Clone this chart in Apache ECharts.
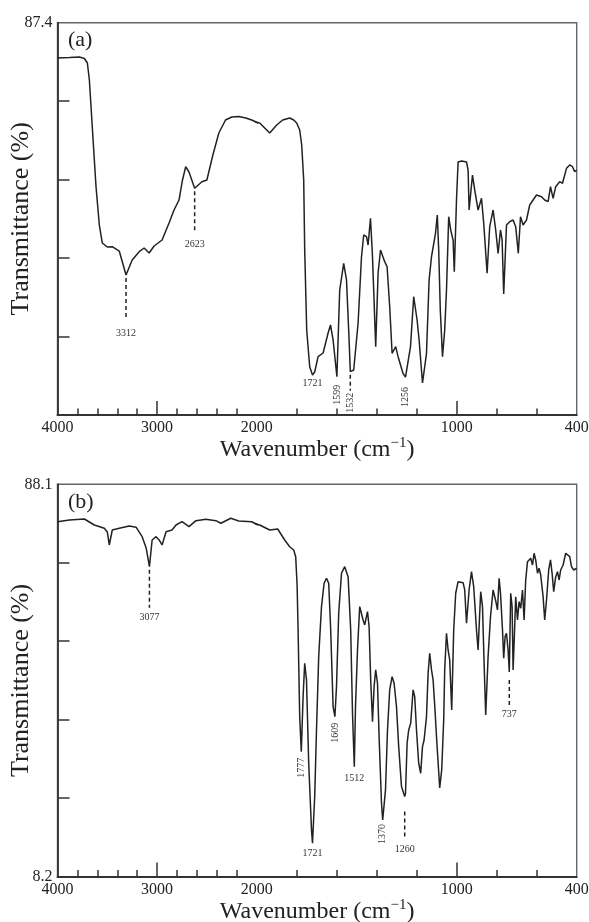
<!DOCTYPE html>
<html>
<head>
<meta charset="utf-8">
<script src="https://cdn.jsdelivr.net/npm/echarts@6/dist/echarts.min.js"></script>
<style>
  html, body { margin: 0; padding: 0; background: #ffffff; }
  #chart { width: 589px; height: 922px; }
</style>
</head>
<body>
<div id="chart"></div>
<script>
// FTIR spectra: [wavenumber (cm-1), transmittance (%)]
const spectrumA = [
  [4000, 80.65], [3880, 80.75], [3780, 80.84], [3730, 80.56], [3700, 79.70], [3680, 76.45],
  [3647, 66.31], [3613, 55.99], [3580, 48.72], [3550, 45.28], [3500, 44.52], [3450, 44.58],
  [3380, 43.75], [3312, 39.17], [3250, 42.03], [3180, 43.62], [3130, 44.33], [3080, 43.37],
  [3030, 44.71], [2950, 45.86], [2880, 49.11], [2830, 51.59], [2780, 53.50], [2745, 57.33],
  [2713, 59.87], [2680, 58.86], [2623, 55.74], [2550, 57.00], [2500, 57.33], [2440, 62.11],
  [2380, 66.31], [2313, 68.80], [2250, 69.37], [2180, 69.47], [2110, 69.18], [2050, 68.80],
  [1985, 68.22], [1960, 67.27], [1935, 66.31], [1900, 67.84], [1870, 68.80], [1835, 69.18],
  [1815, 68.80], [1800, 68.22], [1785, 66.89], [1775, 64.02], [1765, 57.33], [1760, 43.94],
  [1750, 28.65], [1735, 21.63], [1721, 20.05], [1710, 20.62], [1693, 23.55], [1668, 24.25],
  [1643, 28.08], [1631, 29.61], [1618, 26.74], [1599, 19.72], [1585, 36.30], [1565, 41.40],
  [1551, 38.21], [1538, 26.74], [1532, 20.68], [1515, 21.00], [1493, 29.99], [1476, 42.66],
  [1465, 46.81], [1451, 46.49], [1443, 44.90], [1431, 50.01], [1421, 42.66], [1405, 25.46],
  [1393, 39.55], [1381, 43.94], [1360, 41.71], [1348, 40.75], [1335, 33.10], [1323, 24.20],
  [1305, 25.46], [1293, 23.55], [1268, 20.30], [1256, 19.66], [1231, 25.46], [1215, 35.02],
  [1198, 30.56], [1188, 26.74], [1171, 18.52], [1151, 24.20], [1138, 38.21], [1126, 42.66],
  [1118, 42.99], [1106, 47.14], [1097, 50.64], [1090, 43.94], [1082, 32.47], [1071, 23.55],
  [1060, 28.65], [1051, 36.30], [1040, 50.31], [1030, 47.77], [1018, 45.86], [1012, 39.80],
  [1001, 53.50], [993, 60.77], [975, 60.96], [951, 60.77], [943, 59.24], [938, 51.59],
  [921, 58.28], [910, 55.42], [893, 51.59], [876, 53.83], [865, 49.11], [848, 39.49],
  [835, 48.40], [818, 51.59], [805, 47.77], [793, 43.31], [781, 47.77], [773, 45.86],
  [765, 35.53], [751, 48.72], [735, 49.36], [718, 49.68], [705, 48.40], [692, 43.31],
  [681, 50.31], [668, 48.72], [651, 49.68], [635, 52.55], [601, 54.46], [576, 54.13],
  [560, 53.50], [543, 53.18], [531, 56.05], [518, 53.83], [505, 56.05], [485, 57.00],
  [471, 56.70], [451, 59.56], [435, 60.20], [421, 59.87], [410, 58.91], [400, 59.24]
];

const spectrumB = [
  [4000, 80.48], [3880, 80.83], [3730, 81.03], [3630, 79.81], [3530, 79.14], [3500, 78.39],
  [3480, 75.74], [3450, 78.79], [3380, 79.14], [3280, 79.61], [3210, 79.34], [3150, 77.43],
  [3110, 75.13], [3077, 71.32], [3050, 76.76], [3010, 77.43], [2980, 76.76], [2950, 75.74],
  [2910, 78.45], [2850, 78.79], [2810, 79.81], [2750, 80.48], [2680, 79.47], [2610, 80.69],
  [2510, 80.97], [2410, 80.69], [2360, 80.16], [2260, 81.18], [2180, 80.63], [2050, 80.48],
  [1985, 79.81], [1935, 78.79], [1895, 79.00], [1860, 76.76], [1835, 75.39], [1815, 74.72],
  [1805, 73.36], [1798, 67.60], [1793, 58.43], [1785, 40.78], [1777, 33.65], [1768, 44.85],
  [1760, 51.65], [1751, 48.25], [1740, 31.29], [1726, 17.71], [1721, 15.00], [1710, 24.49],
  [1701, 38.07], [1690, 53.00], [1676, 63.18], [1663, 67.94], [1651, 68.96], [1640, 67.94],
  [1630, 58.43], [1618, 42.82], [1609, 40.78], [1601, 46.89], [1590, 61.83], [1576, 69.98],
  [1560, 71.32], [1543, 69.29], [1530, 58.43], [1521, 41.47], [1512, 30.60], [1506, 42.82],
  [1496, 54.36], [1485, 63.18], [1476, 63.52], [1468, 60.47], [1460, 59.45], [1446, 62.16],
  [1438, 59.10], [1430, 48.25], [1421, 39.76], [1413, 46.89], [1405, 50.29], [1396, 47.58],
  [1388, 36.71], [1376, 23.15], [1370, 19.75], [1356, 25.85], [1346, 38.07], [1335, 46.22],
  [1323, 48.92], [1313, 47.58], [1301, 42.82], [1290, 34.67], [1276, 26.53], [1260, 24.49],
  [1256, 25.18], [1248, 35.36], [1240, 38.07], [1230, 39.43], [1218, 46.22], [1210, 44.85],
  [1201, 38.07], [1190, 31.29], [1180, 29.25], [1171, 34.67], [1163, 36.03], [1151, 40.78],
  [1143, 49.62], [1135, 53.69], [1126, 50.29], [1118, 48.25], [1110, 43.16], [1100, 36.03],
  [1085, 26.26], [1075, 29.93], [1065, 40.11], [1060, 50.29], [1051, 57.76], [1043, 54.36],
  [1035, 52.32], [1025, 42.14], [1015, 58.43], [1005, 65.91], [993, 68.27], [968, 68.06],
  [960, 66.58], [951, 59.80], [938, 66.58], [926, 70.30], [915, 67.25], [901, 58.43],
  [893, 54.36], [885, 61.83], [880, 66.23], [871, 63.18], [863, 51.65], [855, 41.13],
  [843, 53.00], [831, 61.14], [818, 66.58], [806, 64.54], [796, 62.51], [788, 68.96],
  [781, 65.91], [771, 58.43], [765, 52.67], [758, 57.07], [751, 57.76], [743, 54.36],
  [737, 49.88], [730, 65.91], [723, 63.18], [718, 50.29], [710, 59.10], [705, 65.21],
  [696, 60.47], [688, 64.20], [680, 62.85], [671, 66.58], [663, 60.47], [655, 68.61],
  [646, 72.34], [638, 72.34], [630, 73.03], [621, 71.67], [613, 74.05], [605, 72.69],
  [596, 69.98], [588, 71.00], [580, 69.63], [568, 65.21], [560, 60.47], [551, 64.54],
  [540, 70.65], [531, 72.69], [523, 69.98], [515, 66.23], [505, 69.29], [496, 70.30],
  [488, 68.61], [480, 70.65], [468, 71.67], [455, 74.05], [446, 74.38], [435, 73.36],
  [426, 71.32], [415, 70.65], [400, 71.00]
];

// labelled bands (cm-1)
const peaksA = [3312, 2623, 1721, 1599, 1532, 1256];
const peaksB = [3077, 1777, 1721, 1609, 1512, 1370, 1260, 737];

// transmittance axis ranges and labels
const yRangeA = [12.4, 87.4];
const yRangeB = [8.2, 88.1];
const yLabelsA = [87.4];
const yLabelsB = [8.2, 88.1];

// wavenumber axis: 4000-2000 and 2000-400 are drawn at different scales
const xLabelsHigh = [4000, 3000, 2000];
const xLabelsLow = [1000, 400];
const xMajorHigh = [3000];
const xMajorLow = [1000];
const xMinorHigh = [3800, 3600, 3400, 3200, 2800, 2600, 2400, 2200];
const xMinorLow = [1800, 1600, 1400, 1200, 800, 600];

// annotation layout (pixel offsets below each band minimum)
const annoLayout = {
  A: {
    3312: { dash: [3, 45], text: 58 },
    2623: { dash: [3, 45], text: 56 },
    1721: { text: 8 },
    1599: { text: 18, vertical: true },
    1532: { dash: [3, 19], text: 31, vertical: true },
    1256: { text: 20, vertical: true }
  },
  B: {
    3077: { dash: [3, 41], text: 51 },
    1777: { text: 16, vertical: true },
    1721: { text: 10 },
    1609: { text: 16, vertical: true },
    1512: { text: 11.5 },
    1370: { text: 14, vertical: true },
    1260: { dash: [15, 43], text: 53 },
    737: { dash: [8, 33], text: 42 }
  }
};

const SERIF = '"Liberation Serif", "Times New Roman", "DejaVu Serif", serif';
const INK = '#222';
const PLOT_LEFT = 57.5, SPLIT_X = 256.7, PLOT_RIGHT = 576.7, PLOT_H = 392.3;

const panels = [
  { key: 'A', top: 22.7, data: spectrumA, peaks: peaksA, yr: yRangeA, yl: yLabelsA, tag: '(a)' },
  { key: 'B', top: 484.3, data: spectrumB, peaks: peaksB, yr: yRangeB, yl: yLabelsB, tag: '(b)' }
];

const grid = [], xAxis = [], yAxis = [], series = [], graphic = [];

function lookupT(data, w) {
  const hit = data.find(d => d[0] === w);
  return hit ? hit[1] : null;
}

function peakRenderer(layout) {
  return function (params, api) {
    const w = api.value(0), t = api.value(1);
    const p = api.coord([w, t]);
    const lay = layout[w];
    const children = [];
    if (lay.dash) {
      children.push({
        type: 'line',
        shape: { x1: p[0], y1: p[1] + lay.dash[0], x2: p[0], y2: p[1] + lay.dash[1] },
        style: { stroke: INK, lineWidth: 1.5, lineDash: [4, 3] }
      });
    }
    children.push({
      type: 'text',
      x: p[0], y: p[1] + lay.text,
      rotation: lay.vertical ? Math.PI / 2 : 0,
      style: {
        text: String(w), align: 'center', verticalAlign: 'middle',
        fontSize: 10, fontFamily: SERIF, fill: '#333'
      }
    });
    return { type: 'group', children };
  };
}

panels.forEach((pn) => {
  const g0 = grid.length;
  // full frame
  grid.push({ left: PLOT_LEFT, top: pn.top, width: PLOT_RIGHT - PLOT_LEFT, height: PLOT_H,
    show: true, borderColor: '#666', borderWidth: 1.4, backgroundColor: 'transparent',
    containLabel: false, outerBoundsMode: 'none' });
  // 4000-2000 region
  grid.push({ left: PLOT_LEFT, top: pn.top, width: SPLIT_X - PLOT_LEFT, height: PLOT_H,
    containLabel: false, outerBoundsMode: 'none' });
  // 2000-400 region
  grid.push({ left: SPLIT_X, top: pn.top, width: PLOT_RIGHT - SPLIT_X, height: PLOT_H,
    containLabel: false, outerBoundsMode: 'none' });

  const x0 = xAxis.length;
  xAxis.push({
    gridIndex: g0, type: 'value', min: 0, max: 1,
    axisLine: { show: false }, axisTick: { show: false }, axisLabel: { show: false },
    splitLine: { show: false },
    name: '{n|Wavenumber (cm}{s|−1}{n|)}', nameLocation: 'middle', nameGap: 21,
    nameMoveOverlap: false,
    nameTextStyle: {
      rich: {
        n: { fontSize: 24, fontFamily: SERIF, color: INK, lineHeight: 28 },
        s: { fontSize: 15, fontFamily: SERIF, color: INK, verticalAlign: 'top', lineHeight: 16 }
      }
    }
  });
  const tickLine = { color: '#333', width: 1.5 };
  const labelStyle = { fontSize: 16, fontFamily: SERIF, color: INK, margin: 5, formatter: v => String(v) };
  // high wavenumber region, major ticks + labels
  xAxis.push({
    gridIndex: g0 + 1, type: 'value', min: 2000, max: 4000, inverse: true, position: 'bottom',
    axisLine: { show: true, lineStyle: { color: '#333', width: 1.8 } },
    axisTick: { show: true, inside: true, length: 14, customValues: xMajorHigh, lineStyle: tickLine },
    axisLabel: Object.assign({ customValues: xLabelsHigh }, labelStyle),
    splitLine: { show: false }
  });
  xAxis.push({
    gridIndex: g0 + 1, type: 'value', min: 2000, max: 4000, inverse: true, position: 'bottom',
    axisLine: { show: false },
    axisTick: { show: true, inside: true, length: 6.5, customValues: xMinorHigh, lineStyle: tickLine },
    axisLabel: { show: false }, splitLine: { show: false }
  });
  // low wavenumber region
  xAxis.push({
    gridIndex: g0 + 2, type: 'value', min: 400, max: 2000, inverse: true, position: 'bottom',
    axisLine: { show: true, lineStyle: { color: '#333', width: 1.8 } },
    axisTick: { show: true, inside: true, length: 14, customValues: xMajorLow, lineStyle: tickLine },
    axisLabel: Object.assign({ customValues: xLabelsLow }, labelStyle),
    splitLine: { show: false }
  });
  xAxis.push({
    gridIndex: g0 + 2, type: 'value', min: 400, max: 2000, inverse: true, position: 'bottom',
    axisLine: { show: false },
    axisTick: { show: true, inside: true, length: 6.5, customValues: xMinorLow, lineStyle: tickLine },
    axisLabel: { show: false }, splitLine: { show: false }
  });

  const [yMin, yMax] = pn.yr;
  const yStep = (yMax - yMin) / 5;
  const yTicks = [1, 2, 3, 4].map(k => +(yMin + k * yStep).toFixed(3));
  const y0 = yAxis.length;
  yAxis.push({
    gridIndex: g0, type: 'value', min: yMin, max: yMax,
    axisLine: { show: true, lineStyle: { color: '#333', width: 1.8 } },
    axisTick: { show: true, inside: true, length: 12, customValues: yTicks, lineStyle: tickLine },
    axisLabel: { customValues: pn.yl, fontSize: 16, fontFamily: SERIF, color: INK, margin: 5,
      formatter: v => v.toFixed(1) },
    splitLine: { show: false },
    name: 'Transmittance (%)', nameLocation: 'middle', nameGap: 23,
    nameMoveOverlap: false,
    nameTextStyle: { fontSize: 26, fontFamily: SERIF, color: INK }
  });
  yAxis.push({ gridIndex: g0 + 1, type: 'value', min: yMin, max: yMax, show: false });
  yAxis.push({ gridIndex: g0 + 2, type: 'value', min: yMin, max: yMax, show: false });

  const lineBase = {
    type: 'line', data: pn.data, showSymbol: false, symbol: 'none', clip: true,
    lineStyle: { color: INK, width: 1.5 }, silent: true, z: 3
  };
  series.push(Object.assign({ xAxisIndex: x0 + 1, yAxisIndex: y0 + 1 }, lineBase));
  series.push(Object.assign({ xAxisIndex: x0 + 3, yAxisIndex: y0 + 2 }, lineBase));

  const layout = annoLayout[pn.key];
  const hiPeaks = pn.peaks.filter(w => w >= 2000).map(w => [w, lookupT(pn.data, w)]);
  const loPeaks = pn.peaks.filter(w => w < 2000).map(w => [w, lookupT(pn.data, w)]);
  series.push({ type: 'custom', xAxisIndex: x0 + 1, yAxisIndex: y0 + 1, data: hiPeaks,
    renderItem: peakRenderer(layout), clip: false, silent: true, z: 4 });
  series.push({ type: 'custom', xAxisIndex: x0 + 3, yAxisIndex: y0 + 2, data: loPeaks,
    renderItem: peakRenderer(layout), clip: false, silent: true, z: 4 });

  graphic.push({
    type: 'text', x: 68, y: pn.top + 18, silent: true,
    style: { text: pn.tag, fontSize: 22, fontFamily: SERIF, fill: INK, verticalAlign: 'middle' }
  });
});

const chart = echarts.init(document.getElementById('chart'), null, { renderer: 'canvas' });
chart.setOption({
  animation: false,
  backgroundColor: '#ffffff',
  grid, xAxis, yAxis, series, graphic
});
</script>
</body>
</html>
